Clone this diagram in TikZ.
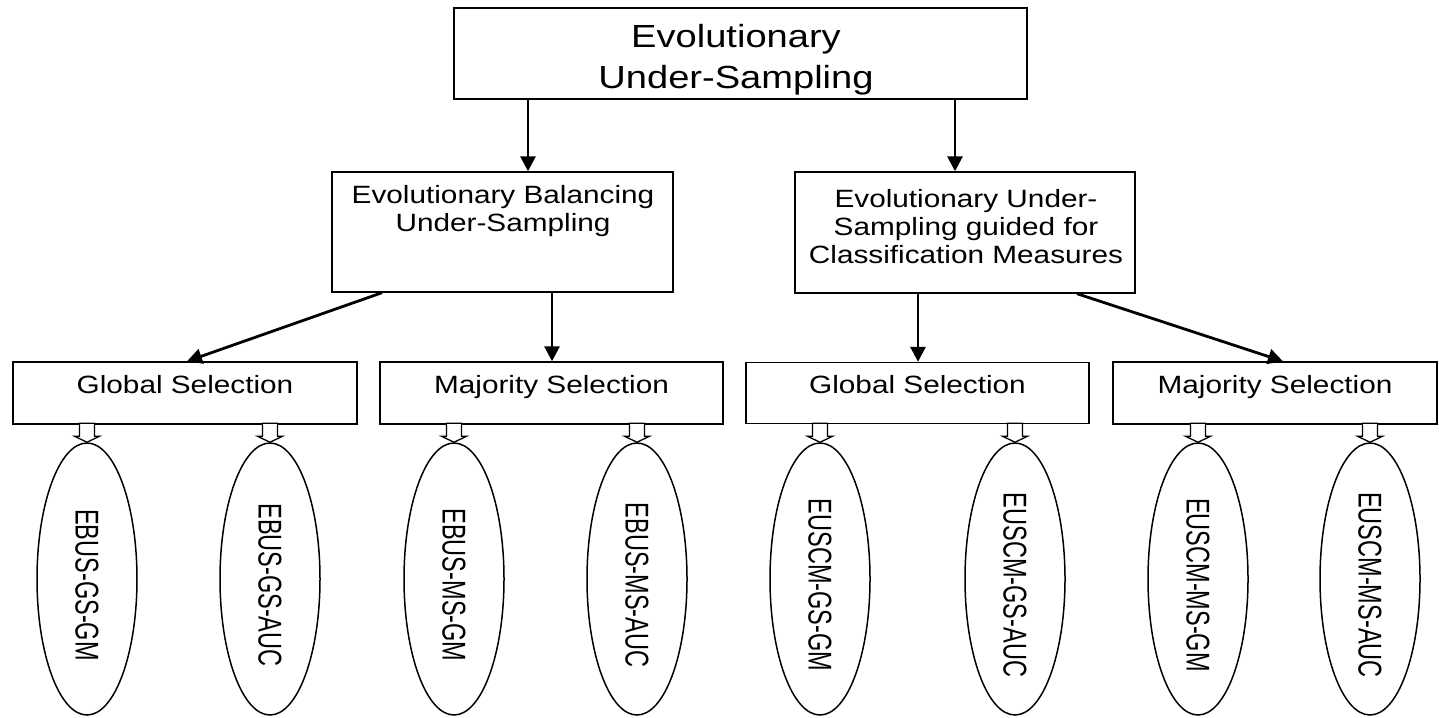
\documentclass[tikz,border=0pt]{standalone}
\usepackage{fontspec}
\setmainfont{Liberation Sans}
\usetikzlibrary{arrows.meta,shapes.geometric}
\newcommand\hs[1]{\scalebox{1.19}[1]{#1}}
\newcommand\vt[1]{\scalebox{1.4}[1]{\rotatebox{-90}{#1}}}
\tikzset{
  box/.style={draw, line width=1.4pt, inner sep=0pt, rectangle},
  lbl/.style={inner sep=0pt, anchor=base, font=\fontsize{25}{28}\selectfont},
  toplbl/.style={inner sep=0pt, anchor=base, font=\fontsize{32}{40}\selectfont},
  arr/.style={line width=2.8pt, -{Triangle[length=15pt,width=15pt]}},
  leaf/.style={draw, ellipse, line width=1.5pt, inner sep=0pt, minimum width=100pt, minimum height=272pt},
  leaftxt/.style={inner sep=0pt, font=\fontsize{23.5}{28}\selectfont},
  hollow/.style={draw, line width=1.3pt, fill=white, line join=miter},
}
\newcommand\hollowdown[1]{\draw[hollow] (#1.north) -- ++(-12.5,-6) -- ++(5,0) -- ++(0,-13) -- ++(15,0) -- ++(0,13) -- ++(5,0) -- cycle;}
\begin{document}
\begin{tikzpicture}[x=1pt,y=-1pt]
\useasboundingbox (0,0) rectangle (1439,717);

% boxes
\node[box, minimum width=573pt, minimum height=91pt] (top) at (740.5,53.5) {};
\node[box, minimum width=341pt, minimum height=120pt] (ebus) at (502.5,232) {};
\node[box, minimum width=340pt, minimum height=121pt] (euscm) at (965,232.5) {};
\node[box, minimum width=344pt, minimum height=62pt] (gs1) at (185,393) {};
\node[box, minimum width=343pt, minimum height=62pt] (ms1) at (551.5,393) {};
\node[box, minimum width=343pt, minimum height=61pt] (gs2) at (917.5,393) {};
\node[box, minimum width=324pt, minimum height=62pt] (ms2) at (1275,393) {};

% box texts
\node[toplbl] (topT) at (736,48) {\hs{\begin{tabular}[t]{@{}c@{}}Evolutionary\\Under-Sampling\end{tabular}}};
\node[lbl] (ebusT) at (503,203) {\hs{\begin{tabular}[t]{@{}c@{}}Evolutionary Balancing\\Under-Sampling\end{tabular}}};
\node[lbl] (euscmT) at (966,207) {\hs{\begin{tabular}[t]{@{}c@{}}Evolutionary Under-\\Sampling guided for\\Classification Measures\end{tabular}}};
\node[lbl] (gs1T) at (185,393) {\hs{Global Selection}};
\node[lbl] (ms1T) at (551.5,393) {\hs{Majority Selection}};
\node[lbl] (gs2T) at (917.5,393) {\hs{Global Selection}};
\node[lbl] (ms2T) at (1275,393) {\hs{Majority Selection}};

% connectors
\draw[arr] (top.south -| 528,0) -- (ebus.north -| 528,0);
\draw[arr] (top.south -| 955,0) -- (euscm.north -| 955,0);
\draw[arr] (ebus.south -| 382,0) -- (gs1.north -| 187,0);
\draw[arr] (ebus.south -| 552,0) -- (ms1.north -| 552,0);
\draw[arr] (euscm.south -| 918,0) -- (gs2.north -| 918,0);
\draw[arr] (euscm.south -| 1077,0) -- (ms2.north -| 1283,0);

% leaves
\foreach \n/\x/\t in {1/87/EBUS-GS-GM, 2/270/EBUS-GS-AUC, 3/454/EBUS-MS-GM, 4/637/EBUS-MS-AUC,
                      5/820/EUSCM-GS-GM, 6/1015/EUSCM-GS-AUC, 7/1198/EUSCM-MS-GM, 8/1370/EUSCM-MS-AUC} {
  \node[leaf] (e\n) at (\x,579) {};
  \node[leaftxt] (t\n) at ([yshift=-6pt]e\n.center) {\vt{\t}};
  \hollowdown{e\n}
}
\end{tikzpicture}
\end{document}
